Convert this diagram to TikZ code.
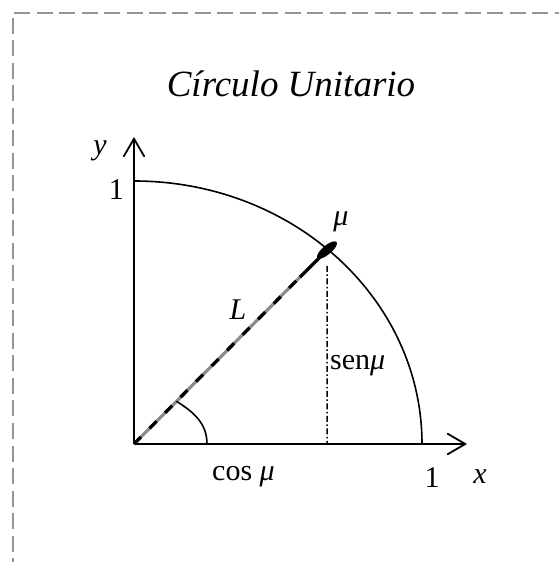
\documentclass[tikz,border=0pt]{standalone}
\usepackage{fontspec}
\setmainfont{Liberation Serif}
\usetikzlibrary{arrows.meta, shapes.geometric}

\begin{document}
\begin{tikzpicture}[
    x=1pt, y=1pt,
    lbl/.style       ={inner sep=0pt, font=\fontsize{30}{34}\selectfont},
    ilbl/.style      ={lbl, font=\fontsize{30}{34}\selectfont\itshape},
    titletext/.style ={inner sep=0pt, font=\fontsize{37}{42}\selectfont\itshape},
    axis/.style      ={-{Straight Barb[length=18pt, width=21pt, line width=1.8pt]},
                       line width=2pt},
    frame/.style     ={draw=black!42, line width=1.3pt, dash pattern=on 16pt off 6.5pt},
    quarter/.style   ={line width=1.6pt},
    proj/.style      ={line width=1.5pt, dash pattern=on 6pt off 2.5pt on 1.5pt off 2.5pt},
    rodbase/.style   ={line width=3.2pt, black!45},
    roddash/.style   ={line width=3.2pt, dash pattern=on 10pt off 12pt},
    bobstyle/.style  ={ellipse, fill, inner sep=0pt, minimum width=25pt,
                       minimum height=9pt, rotate=40}
]
\useasboundingbox (-134,-118) rectangle (424,444);

% =================== Frame ===================
\draw[frame] (-121,-130) -- (-121,431) -- (440,431);

% =================== Title ===================
\node[titletext, anchor=base] (title) at (157,347) {Círculo Unitario};

% =================== Axes ===================
\coordinate (O) at (0,0);
\coordinate (xtip) at (333,0);
\coordinate (ytip) at (0,307);
\coordinate (ytop) at (0,263);
\draw[axis] (O) -- (xtip);
\draw[axis] (O) -- (ytip);

% quarter of the unit circle
\draw[quarter] (ytop) arc[start angle=90, end angle=0, x radius=288, y radius=263];

% =================== Rod and point ===================
\coordinate (P) at (193,194);
\path (O) -- (P) coordinate[pos=0.22] (angstart) coordinate[pos=0.86] (rodtop);
\coordinate (angend) at (73,0);

\draw[rodbase] (O) -- (P);
\draw[roddash] (O) -- (rodtop);
\draw[line width=3.2pt] (rodtop) -- (P);
\node[bobstyle] (bob) at (P) {};

% projection on the x axis
\draw[proj, shorten <=10pt] (bob) -- (bob |- O);

% angle mark
\draw[quarter] (angstart) to[out=-32, in=90] (angend);

% =================== Labels ===================
\node[ilbl, anchor=base] (ylab) at (-34,289) {y};
\node[lbl, anchor=east] (yone) at (-10,254) {1};
\node[lbl, anchor=base] (xone) at (298,-43) {1};
\node[ilbl, anchor=base] (xlab) at (346,-39) {x};
\node[lbl, anchor=base west] (coslab) at (78,-36) {cos {\itshape μ}};
\node[ilbl, anchor=base] (mulab) at (207,218) {μ};
\node[ilbl, anchor=base] (Llab) at (104,124) {L};
\node[lbl, anchor=base west] (senlab) at (196,74) {sen{\itshape μ}};

\end{tikzpicture}
\end{document}
